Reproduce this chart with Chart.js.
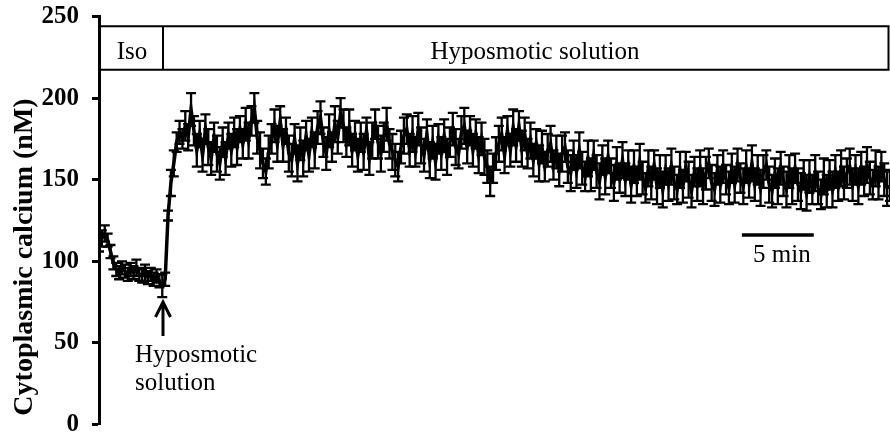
<!DOCTYPE html>
<html>
<head>
<meta charset="utf-8">
<script src="https://cdn.jsdelivr.net/npm/chart.js@4.4.1/dist/chart.umd.min.js"></script>
<style>
  html, body { margin: 0; padding: 0; background: #ffffff; }
  #wrap { width: 890px; height: 438px; position: relative; }
</style>
</head>
<body>
<div id="wrap"><canvas id="c" width="890" height="438"></canvas></div>
<script>
// ---- Data ----
const sampleStepMin = 0.2; // minutes between samples
const calciumMean = [
  111,114,117,113,106,99,95,93,96,94,
  92,95,93,96,92,91,93,90,92,89,
  91,88,85,89,128,148,160,173,179,175,
  183,176,193,180,168,178,165,181,170,163,
  176,166,160,173,163,177,168,179,170,181,
  172,184,174,186,194,176,168,160,155,167,
  175,183,172,186,171,180,166,162,175,160,
  172,163,177,165,179,168,182,188,173,166,
  180,170,184,176,191,183,173,182,168,177,
  165,176,167,180,163,174,184,173,166,176,
  184,172,167,162,158,170,177,181,168,178,
  167,181,171,165,178,162,173,161,175,166,
  177,164,173,181,170,166,179,183,170,180,
  168,178,165,175,164,158,149,157,166,172,
  178,165,180,168,182,171,183,169,178,166,
  174,162,172,160,170,158,168,172,159,167,
  156,166,170,158,154,165,155,168,157,152,
  163,153,165,155,149,162,152,164,154,148,
  160,151,162,150,159,147,158,149,161,151,
  145,157,148,159,146,155,144,156,147,158,
  148,144,156,146,158,150,143,155,147,157,
  146,154,160,148,144,156,147,158,150,145,
  157,147,159,151,146,158,148,160,147,156,
  145,155,159,147,143,154,146,157,149,144,
  155,146,157,147,143,153,142,152,144,154,
  145,141,152,143,153,144,155,146,157,148,
  154,158,147,156,146,157,149,159,151,147,
  157,148,158,150,145,146
];
const calciumErr = [
  5,5,5,4,4,4,4,4,4,4,
  4,4,4,5,4,4,5,4,4,4,
  4,4,7,4,3,8,8,6,7,6,
  9,8,10,9,10,8,10,9,11,10,
  9,11,10,9,10,8,10,9,11,8,
  9,10,11,9,9,10,11,9,8,10,
  9,10,11,9,10,8,11,10,9,11,
  10,11,9,10,9,11,10,10,9,10,
  10,9,11,10,9,10,9,11,10,9,
  10,9,11,8,10,11,9,10,11,9,
  10,9,11,10,9,10,11,9,10,11,
  9,10,11,10,9,11,10,11,9,10,
  10,11,9,10,11,9,10,11,10,9,
  10,9,11,10,11,10,9,9,10,11,
  10,11,9,10,11,10,9,11,10,9,
  11,10,9,11,10,9,10,11,9,10,
  10,11,9,10,11,9,10,11,10,9,
  11,10,9,10,11,9,11,10,9,11,
  10,9,11,10,9,11,10,9,11,10,
  9,11,10,9,11,10,11,9,10,11,
  10,9,11,10,9,11,10,9,10,11,
  11,10,9,11,10,9,11,10,9,10,
  9,11,10,9,11,10,9,11,10,9,
  11,10,9,11,10,9,11,10,9,11,
  10,11,9,10,11,9,11,10,9,11,
  10,9,11,10,9,11,10,9,11,10,
  9,11,10,9,11,10,9,11,10,9,
  11,10,9,10,11,9
];
const yTicks = [0, 50, 100, 150, 200, 250];
const yTitle = 'Cytoplasmic calcium (nM)';
const isoLabel = 'Iso';
const hypoLabel = 'Hyposmotic solution';
const arrowLabel = ['Hyposmotic', 'solution'];
const scaleBarLabel = '5 min';
const solutionSwitchMin = 4.45;
const scaleBarStartMin = 44.7;
const scaleBarLenMin = 5;
const xMaxMin = 55;

const points = calciumMean.map((v, i) => ({ x: i * sampleStepMin, y: v }));

const SERIF = "'Liberation Serif', 'Times New Roman', serif";

const errorBars = {
  id: 'errorBars',
  beforeDatasetsDraw(chart) {
    const { ctx, chartArea } = chart;
    const xs = chart.scales.x, ys = chart.scales.y;
    ctx.save();
    ctx.beginPath();
    ctx.rect(chartArea.left + 1.5, 0, chartArea.right - chartArea.left, chart.height);
    ctx.clip();
    ctx.strokeStyle = '#000';
    ctx.lineWidth = 2.3;
    const cap = 5;
    points.forEach((p, i) => {
      const e = calciumErr[i];
      const px = xs.getPixelForValue(p.x);
      const top = ys.getPixelForValue(p.y + e);
      const bot = ys.getPixelForValue(p.y - e);
      ctx.beginPath();
      ctx.moveTo(px, top); ctx.lineTo(px, bot);
      ctx.moveTo(px - cap, top); ctx.lineTo(px + cap, top);
      ctx.moveTo(px - cap, bot); ctx.lineTo(px + cap, bot);
      ctx.stroke();
    });
    ctx.restore();
  }
};

const annotations = {
  id: 'annotations',
  afterDraw(chart) {
    const { ctx, chartArea } = chart;
    const xs = chart.scales.x, ys = chart.scales.y;
    ctx.save();
    ctx.strokeStyle = '#000';
    ctx.fillStyle = '#000';

    // Solution box
    const bTop = ys.getPixelForValue(244);
    const bBot = ys.getPixelForValue(217.3);
    const bLeft = chartArea.left;
    const bRight = chart.width - 1.5;
    const bDiv = xs.getPixelForValue(solutionSwitchMin);
    ctx.lineWidth = 2;
    ctx.beginPath();
    ctx.moveTo(bLeft, bTop); ctx.lineTo(bRight, bTop); ctx.lineTo(bRight, bBot); ctx.lineTo(bLeft, bBot);
    ctx.moveTo(bDiv, bTop); ctx.lineTo(bDiv, bBot);
    ctx.stroke();
    ctx.font = '25px ' + SERIF;
    ctx.textBaseline = 'alphabetic';
    ctx.textAlign = 'center';
    ctx.fillText(isoLabel, (bLeft + bDiv) / 2 + 1, 59);
    ctx.fillText(hypoLabel, 535, 59);

    // Arrow
    const ax = bDiv;
    ctx.lineWidth = 3;
    ctx.beginPath();
    ctx.moveTo(ax, 336); ctx.lineTo(ax, 302);
    ctx.moveTo(ax - 7.5, 317); ctx.lineTo(ax, 302); ctx.lineTo(ax + 7.5, 317);
    ctx.stroke();
    ctx.textAlign = 'left';
    ctx.fillText(arrowLabel[0], 135, 362);
    ctx.fillText(arrowLabel[1], 135, 390);

    // Scale bar
    const s0 = xs.getPixelForValue(scaleBarStartMin);
    const s1 = xs.getPixelForValue(scaleBarStartMin + scaleBarLenMin);
    ctx.lineWidth = 3.5;
    ctx.beginPath();
    ctx.moveTo(s0, 235); ctx.lineTo(s1, 235);
    ctx.stroke();
    ctx.textAlign = 'center';
    ctx.fillText(scaleBarLabel, (s0 + s1) / 2 + 4, 262);

    // Y axis title
    ctx.font = 'bold 28px ' + SERIF;
    ctx.translate(25, 257);
    ctx.rotate(-Math.PI / 2);
    ctx.textAlign = 'center';
    ctx.textBaseline = 'middle';
    ctx.fillText(yTitle, 0, 0);
    ctx.restore();
  }
};

new Chart(document.getElementById('c'), {
  type: 'line',
  data: {
    datasets: [{
      data: points,
      borderColor: '#000',
      borderWidth: 3.5,
      pointRadius: 0,
      tension: 0,
      fill: false
    }]
  },
  options: {
    responsive: false,
    animation: false,
    devicePixelRatio: 1,
    layout: { padding: { top: 16.5, bottom: 13.5, left: 0, right: 0 } },
    plugins: { legend: { display: false }, tooltip: { enabled: false } },
    scales: {
      x: { type: 'linear', min: 0, max: xMaxMin, display: false },
      y: {
        min: 0, max: 250,
        afterBuildTicks(scale) { scale.ticks = yTicks.map(v => ({ value: v })); },
        afterFit(scale) {
          scale.width = 99;
          scale.paddingTop = 0; scale.paddingBottom = 0;
        },
        ticks: {
          color: '#000',
          padding: 13,
          font: { family: SERIF, size: 25, weight: 'bold', lineHeight: 1 }
        },
        grid: { drawOnChartArea: false, drawTicks: true, tickLength: 7, tickWidth: 3, tickColor: '#000' },
        border: { display: true, color: '#000', width: 3 }
      }
    }
  },
  plugins: [errorBars, annotations]
});
</script>
</body>
</html>
